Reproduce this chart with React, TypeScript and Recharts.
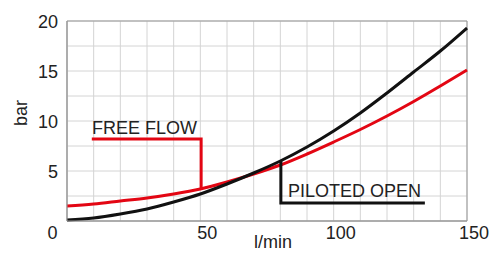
import React from 'react';
import {
  LineChart,
  Line,
  XAxis,
  YAxis,
  CartesianGrid,
  ReferenceArea,
} from 'recharts';

// flow in l/min
const flow = [0, 10, 20, 30, 40, 50, 60, 70, 80, 90, 100, 110, 120, 130, 140, 150];
// pressure drop in bar
const freeFlow = [1.5, 1.7, 2.0, 2.3, 2.7, 3.2, 3.9, 4.7, 5.6, 6.7, 7.9, 9.15, 10.5, 11.95, 13.5, 15.1];
const pilotedOpen = [0.1, 0.3, 0.7, 1.2, 1.9, 2.7, 3.7, 4.8, 6.0, 7.4, 9.0, 10.8, 12.8, 14.9, 17.0, 19.3];

// label leaders (callout brackets)
const freeFlowLeader = [
  { x: 9.3, y: 8.2 },
  { x: 50.3, y: 8.2 },
  { x: 50.3, y: 3.2 },
];
const pilotedLeader = [
  { x: 80.2, y: 6.0 },
  { x: 80.2, y: 1.8 },
  { x: 134.2, y: 1.8 },
];

const xTicks = flow;
const yTicks = [0, 2.5, 5, 7.5, 10, 12.5, 15, 17.5, 20];
const xLabels = [0, 50, 100, 150];
const yLabels = [5, 10, 15, 20];

const data = flow.map((x, i) => ({ x, free: freeFlow[i], piloted: pilotedOpen[i] }));

const FONT = '"Liberation Sans", Arial, sans-serif';
const TEXT = '#222';
const RED = '#e30613';
const BLACK = '#111';

/**
 * Bottom tick: only every 50 is labelled, shifted slightly right like the original
 */
const XTick = (props: any) => {
  const { x, y, payload } = props;
  const v = payload.value;
  if (!xLabels.includes(v)) return <g />;
  const dx = v === 0 ? -14.5 : 7;
  return (
    <text x={x + dx} y={y + 9.5} textAnchor="middle" fontSize={18} fontFamily={FONT} fill={TEXT}>
      {v}
    </text>
  );
};

const YTick = (props: any) => {
  const { x, y, payload } = props;
  const v = payload.value;
  if (!yLabels.includes(v)) return <g />;
  return (
    <text x={x - 1} y={y + 6.5} textAnchor="end" fontSize={18} fontFamily={FONT} fill={TEXT}>
      {v}
    </text>
  );
};

export default function App() {
  return (
    <div style={{ position: 'absolute', left: 0, top: 0, width: 498, height: 253, background: '#fff' }}>
      <LineChart width={498} height={253} data={data} margin={{ top: 21, right: 31, left: 0, bottom: 0 }}>
        <CartesianGrid stroke="#d4d4d4" strokeWidth={1} />
        <XAxis
          type="number"
          dataKey="x"
          domain={[0, 150]}
          ticks={xTicks}
          interval={0}
          tickLine={false}
          axisLine={{ stroke: '#999' }}
          height={32}
          tick={<XTick />}
        />
        <YAxis
          type="number"
          domain={[0, 20]}
          ticks={yTicks}
          interval={0}
          tickLine={false}
          axisLine={{ stroke: '#999' }}
          width={67}
          tick={<YTick />}
        />
        <ReferenceArea x1={0} x2={150} y1={0} y2={20} fill="none" stroke="#999" strokeWidth={1} />
        <Line type="monotone" dataKey="free" stroke={RED} strokeWidth={3} dot={false} isAnimationActive={false} />
        <Line type="monotone" dataKey="piloted" stroke={BLACK} strokeWidth={3} dot={false} isAnimationActive={false} />
        <Line data={freeFlowLeader} type="linear" dataKey="y" stroke={RED} strokeWidth={3} dot={false} isAnimationActive={false} />
        <Line data={pilotedLeader} type="linear" dataKey="y" stroke={BLACK} strokeWidth={3} dot={false} isAnimationActive={false} />
        <text x={92} y={134} fontSize={18} fontFamily={FONT} fill={TEXT}>FREE FLOW</text>
        <text x={288} y={197} fontSize={18} fontFamily={FONT} fill={TEXT}>PILOTED OPEN</text>
        <text x={27} y={113} fontSize={18} fontFamily={FONT} fill={TEXT} textAnchor="middle" transform="rotate(-90 27 113)">bar</text>
        <text x={273} y={248} fontSize={18} fontFamily={FONT} fill={TEXT} textAnchor="middle">l/min</text>
      </LineChart>
    </div>
  );
}
